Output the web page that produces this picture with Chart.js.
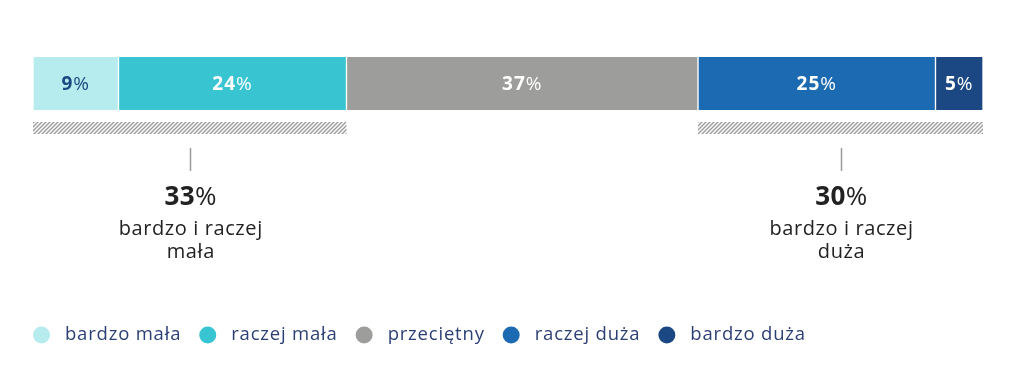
<!DOCTYPE html>
<html>
<head>
<meta charset="utf-8">
<script src="https://cdn.jsdelivr.net/npm/chart.js@4/dist/chart.umd.min.js"></script>
<style>
  html, body { margin: 0; padding: 0; background: #fff; }
  #wrap { width: 1024px; height: 367px; position: relative; }
</style>
</head>
<body>
<div id="wrap"><canvas id="chart"></canvas></div>
<script>
var
    categories   = ['bardzo mała', 'raczej mała', 'przeciętny', 'raczej duża', 'bardzo duża']
  , values       = [9, 24, 37, 25, 5]
  , barColors    = ['#b6ecee', '#38c4d1', '#9d9d9c', '#1c6ab1', '#1b4882']
  , labelColors  = ['#1b4882', '#ffffff', '#ffffff', '#ffffff', '#ffffff']
  , groupValues  = [33, 30]
  , groupFrom    = [0, 3]
  , groupTo      = [1, 4]
  , groupLines   = [['bardzo i raczej', 'mała'], ['bardzo i raczej', 'duża']]

var FONT = '"Open Sans", "DejaVu Sans", sans-serif'

// diagonal stripes for the bands under the bar
var makeHatch = function (ctx) {
  var
      c = document.createElement('canvas')
    , g = c.getContext('2d')

  c.width = 4
  c.height = 4
  g.strokeStyle = '#9c9c9c'
  g.lineWidth = 1.4
  g.beginPath()
  g.moveTo(-1, 5); g.lineTo(5, -1)
  g.moveTo(-1, 1); g.lineTo(1, -1)
  g.moveTo(3, 5); g.lineTo(5, 3)
  g.stroke()
  return ctx.createPattern(c, 'repeat')
}

// number in bold, percent sign regular, centred on x
var drawPercent = function (ctx, value, x, y, size, color, spacing) {
  var
      num = String(value)
    , bold = '700 ' + size + 'px ' + FONT
    , reg = '400 ' + size + 'px ' + FONT
    , w1, w2

  ctx.letterSpacing = spacing + 'px'
  ctx.font = bold
  w1 = ctx.measureText(num).width
  ctx.font = reg
  w2 = ctx.measureText('%').width
  ctx.fillStyle = color
  ctx.textBaseline = 'middle'
  ctx.textAlign = 'left'
  ctx.font = bold
  ctx.fillText(num, x - (w1 + w2) / 2, y)
  ctx.font = reg
  ctx.fillText('%', x - (w1 + w2) / 2 + w1, y)
  ctx.letterSpacing = '0px'
}

var annotations = {
  id: 'annotations',
  afterDatasetsDraw: function (chart) {
    var ctx = chart.ctx

    ctx.save()

    // labels inside the segments
    for (var i = 0; i < values.length; i++) {
      var bar = chart.getDatasetMeta(i).data[0]
      drawPercent(ctx, values[i], (bar.x + bar.base) / 2, bar.y + 1, 19, labelColors[i], 1)
    }

    // hatched bands, tick line, group totals
    var hatch = makeHatch(ctx)
    for (var k = 0; k < groupValues.length; k++) {
      var
          first = chart.getDatasetMeta(groupFrom[k]).data[0]
        , last  = chart.getDatasetMeta(groupTo[k]).data[0]
        , left  = first.base
        , right = last.x
        , mid   = (left + right) / 2
        , bottom = first.y + first.height / 2

      ctx.fillStyle = hatch
      ctx.fillRect(left, bottom + 12, right - left, 12)

      ctx.strokeStyle = '#9a9a9a'
      ctx.lineWidth = 1.5
      ctx.beginPath()
      ctx.moveTo(Math.round(mid) + 0.5, bottom + 38)
      ctx.lineTo(Math.round(mid) + 0.5, bottom + 61)
      ctx.stroke()

      drawPercent(ctx, groupValues[k], mid + 1, bottom + 88, 26, '#222222', 0.5)

      ctx.font = '400 20px ' + FONT
      ctx.letterSpacing = '0.6px'
      ctx.fillStyle = '#222222'
      ctx.textAlign = 'center'
      ctx.textBaseline = 'alphabetic'
      for (var l = 0; l < groupLines[k].length; l++)
        ctx.fillText(groupLines[k][l], mid + 1, bottom + 125 + l * 23)
      ctx.letterSpacing = '0px'
    }

    // legend
    var
        lx = 33
      , ly = 335

    ctx.font = '400 18.5px ' + FONT
    ctx.letterSpacing = '0.8px'
    ctx.textBaseline = 'middle'
    ctx.textAlign = 'left'
    for (var j = 0; j < categories.length; j++) {
      ctx.fillStyle = barColors[j]
      ctx.beginPath()
      ctx.arc(lx + 8.5, ly, 8.5, 0, Math.PI * 2)
      ctx.fill()
      lx += 17 + 15
      ctx.fillStyle = '#2c3f74'
      ctx.fillText(categories[j], lx, ly)
      lx += ctx.measureText(categories[j]).width + 18
    }
    ctx.letterSpacing = '0px'

    ctx.restore()
  }
}

var datasets = []
for (var d = 0; d < values.length; d++) {
  datasets.push({
      label              : categories[d]
    , data               : [values[d]]
    , backgroundColor    : barColors[d]
    , borderColor        : '#ffffff'
    , borderWidth        : { left: 1, right: 1, top: 0, bottom: 0 }
    , borderSkipped      : false
    , barPercentage      : 1
    , categoryPercentage : 1
  })
}

new Chart(document.getElementById('chart'), {
  type: 'bar',
  data: { labels: [''], datasets: datasets },
  plugins: [annotations],
  options: {
    indexAxis: 'y',
    responsive: true,
    maintainAspectRatio: false,
    animation: false,
    layout: { padding: { left: 33, right: 41, top: 57, bottom: 257 } },
    scales: {
      x: { stacked: true, min: 0, max: 100, display: false },
      y: { stacked: true, display: false }
    },
    plugins: {
      legend: { display: false },
      tooltip: { enabled: false }
    }
  }
})
</script>
</body>
</html>
